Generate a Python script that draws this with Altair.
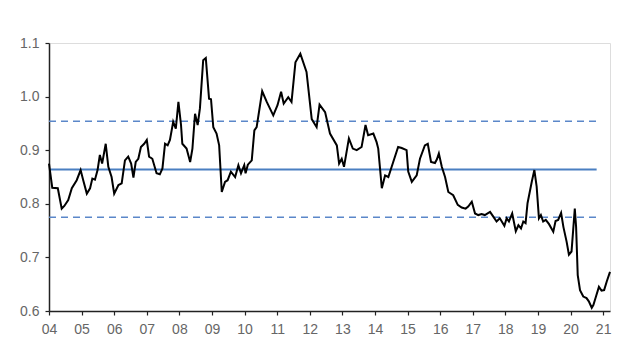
import altair as alt
import pandas as pd

years = [2004.00, 2004.10, 2004.27, 2004.39, 2004.47, 2004.59, 2004.70, 2004.85, 2004.97,
         2005.05, 2005.16, 2005.26, 2005.33, 2005.41, 2005.49, 2005.56, 2005.63, 2005.74, 2005.82, 2005.92,
         2006.00, 2006.13, 2006.23, 2006.33, 2006.43, 2006.52, 2006.59, 2006.66, 2006.74, 2006.82, 2006.92,
         2007.00, 2007.07, 2007.17, 2007.30, 2007.40, 2007.48, 2007.56, 2007.64, 2007.71, 2007.81, 2007.89, 2007.97,
         2008.05, 2008.09, 2008.22, 2008.33, 2008.40, 2008.48, 2008.56, 2008.63, 2008.73, 2008.81, 2008.91, 2008.97,
         2009.04, 2009.14, 2009.22, 2009.30, 2009.40, 2009.48, 2009.58, 2009.71, 2009.81, 2009.89, 2009.99,
         2010.03, 2010.10, 2010.22, 2010.30, 2010.37, 2010.54, 2010.68, 2010.88,
         2011.01, 2011.12, 2011.20, 2011.34, 2011.44, 2011.56, 2011.71, 2011.90,
         2012.06, 2012.21, 2012.30, 2012.47, 2012.62, 2012.83, 2012.90, 2012.98,
         2013.05, 2013.20, 2013.32, 2013.44, 2013.59, 2013.71, 2013.79, 2013.95,
         2014.05, 2014.10, 2014.21, 2014.31, 2014.41, 2014.56, 2014.71, 2014.82, 2014.97,
         2015.02, 2015.13, 2015.28, 2015.38, 2015.53, 2015.62, 2015.72, 2015.84, 2015.90, 2015.96,
         2016.05, 2016.15, 2016.25, 2016.40, 2016.54, 2016.66, 2016.78, 2016.86, 2016.97,
         2017.07, 2017.17, 2017.27, 2017.37, 2017.53, 2017.63, 2017.73, 2017.83, 2017.97,
         2018.04, 2018.11, 2018.21, 2018.32, 2018.40, 2018.48, 2018.55, 2018.62, 2018.68, 2018.81, 2018.89, 2018.96,
         2019.03, 2019.09, 2019.16, 2019.24, 2019.34, 2019.47, 2019.54, 2019.62, 2019.71, 2019.78, 2019.88, 2019.95,
         2020.03, 2020.08, 2020.13, 2020.17, 2020.22, 2020.29, 2020.39, 2020.49, 2020.56, 2020.65, 2020.70, 2020.78,
         2020.87, 2020.95, 2021.03, 2021.11, 2021.21]

values = [0.875, 0.830, 0.829, 0.791, 0.796, 0.807, 0.829, 0.844, 0.863,
          0.844, 0.819, 0.829, 0.847, 0.845, 0.863, 0.891, 0.875, 0.912, 0.869, 0.850,
          0.819, 0.835, 0.838, 0.881, 0.888, 0.875, 0.849, 0.878, 0.884, 0.906, 0.912,
          0.919, 0.888, 0.884, 0.857, 0.855, 0.866, 0.912, 0.909, 0.919, 0.953, 0.940, 0.990,
          0.947, 0.912, 0.903, 0.878, 0.903, 0.968, 0.947, 0.978, 1.068, 1.072, 0.996, 0.995,
          0.943, 0.931, 0.909, 0.822, 0.841, 0.844, 0.860, 0.850, 0.872, 0.857, 0.872,
          0.857, 0.873, 0.881, 0.937, 0.943, 1.010, 0.990, 0.965,
          0.984, 1.009, 0.987, 0.999, 0.990, 1.064, 1.080, 1.046,
          0.958, 0.943, 0.985, 0.971, 0.931, 0.909, 0.875, 0.884,
          0.869, 0.922, 0.903, 0.900, 0.906, 0.947, 0.928, 0.931,
          0.915, 0.903, 0.829, 0.853, 0.850, 0.878, 0.906, 0.904, 0.900,
          0.860, 0.841, 0.853, 0.884, 0.909, 0.912, 0.878, 0.876, 0.883, 0.894,
          0.869, 0.850, 0.822, 0.816, 0.798, 0.793, 0.791, 0.795, 0.804,
          0.782, 0.779, 0.781, 0.779, 0.785, 0.776, 0.767, 0.773, 0.759,
          0.773, 0.767, 0.782, 0.749, 0.760, 0.754, 0.767, 0.764, 0.801, 0.841, 0.863, 0.832,
          0.773, 0.779, 0.767, 0.770, 0.762, 0.748, 0.768, 0.770, 0.783, 0.757, 0.729, 0.705,
          0.711, 0.751, 0.791, 0.757, 0.667, 0.639, 0.627, 0.624, 0.618, 0.606, 0.611, 0.627,
          0.645, 0.638, 0.639, 0.655, 0.673]

ref_values = [0.864, 0.954, 0.775]
ref_kind = ["mean", "plus", "minus"]
ref_start = 2004.0
ref_end = 2020.8

x_ticks = list(range(2004, 2022))
y_ticks = [0.6, 0.7, 0.8, 0.9, 1.0, 1.1]

df = pd.DataFrame({"year": years, "value": values})
ref = pd.DataFrame({"y": ref_values, "kind": ref_kind,
                    "x1": [ref_start] * 3, "x2": [ref_end] * 3})

xscale = alt.Scale(domain=[2004, 2021.21], nice=False, zero=False)
yscale = alt.Scale(domain=[0.6, 1.1], nice=False, zero=False)

font = "Liberation Sans Narrow, Liberation Sans, Arial, sans-serif"

xaxis = alt.Axis(values=x_ticks, labelExpr="substring(toString(datum.value), 2, 4)",
                 title=None, grid=False, domainColor="#222222", domainWidth=1.5,
                 tickColor="#222222", tickSize=4, tickWidth=1.2, labelColor="#666666",
                 labelFontSize=14, labelFont=font, labelPadding=7,
                 labelOverlap=False, labelFlush=False)
yaxis = alt.Axis(values=y_ticks, format=".1f", title=None, grid=False,
                 domainColor="#222222", domainWidth=1.5, tickColor="#222222",
                 tickSize=4, tickWidth=1.2, labelColor="#666666", labelFontSize=14,
                 labelFont=font, labelPadding=6, labelOverlap=False, labelFlush=False)

line = alt.Chart(df).mark_line(color="#000000", strokeWidth=2).encode(
    x=alt.X("year:Q", scale=xscale, axis=xaxis),
    y=alt.Y("value:Q", scale=yscale, axis=yaxis),
)

mean_rule = alt.Chart(ref).transform_filter(alt.datum.kind == "mean").mark_rule(
    color="#4a7fc1", strokeWidth=1.8).encode(
    x=alt.X("x1:Q", scale=xscale, axis=xaxis), x2="x2:Q",
    y=alt.Y("y:Q", scale=yscale, axis=yaxis))

band_rule = alt.Chart(ref).transform_filter(alt.datum.kind != "mean").mark_rule(
    color="#5b87c9", strokeWidth=1.6, strokeDash=[7, 5]).encode(
    x=alt.X("x1:Q", scale=xscale, axis=xaxis), x2="x2:Q",
    y=alt.Y("y:Q", scale=yscale, axis=yaxis))

chart = alt.layer(band_rule, mean_rule, line).properties(
    width=561, height=268,
    autosize=alt.AutoSizeParams(type="none"),
    padding={"left": 41, "top": 35, "right": 20, "bottom": 40},
).configure_view(stroke=None).configure(background="white").configure_axis(
    labelOverlap=False, labelFontSize=14, labelFont=font)

chart.save("out.html", embed_options={"renderer": "svg", "actions": False})
